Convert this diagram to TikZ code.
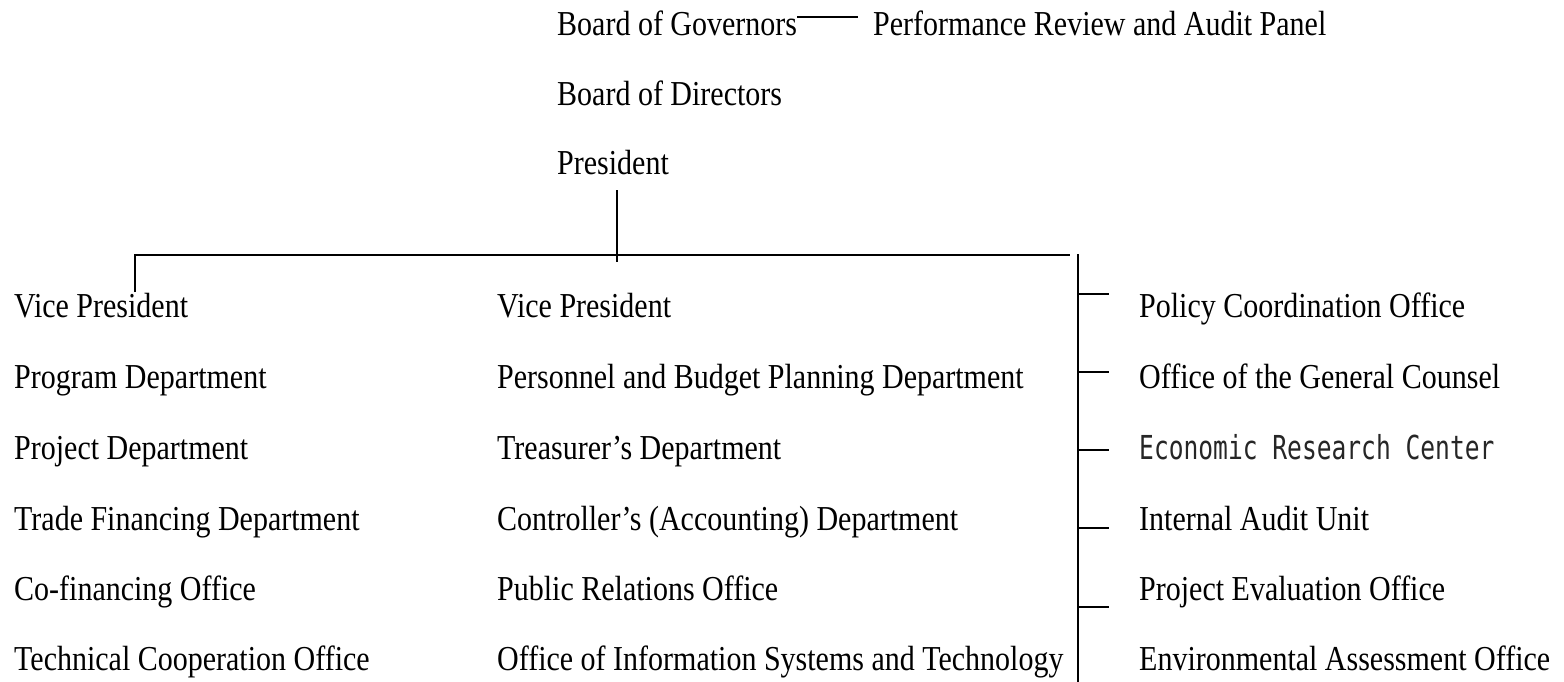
\documentclass[tikz,border=0pt]{standalone}
\usepackage{fontspec}
\setmainfont{Liberation Serif}[FakeStretch=0.857]
\newfontfamily\gothicmono{DejaVu Sans Mono}[FakeStretch=0.745]
\begin{document}
\begin{tikzpicture}[x=1pt,y=-1pt,
  lbl/.style={anchor=base west, inner sep=0pt, font=\fontsize{35}{40}\selectfont},
  monolbl/.style={anchor=base west, inner sep=0pt, font=\gothicmono\fontsize{33}{38}\selectfont, text=black!85},
  link/.style={line width=2pt, black}]
\useasboundingbox (0,0) rectangle (1564,682);

% top of the hierarchy
\node[lbl] (gov) at (557,36) {Board of Governors};
\node[lbl] (panel) at (873,36) {Performance Review and Audit Panel};
\node[lbl] (dir) at (557,106) {Board of Directors};
\node[lbl] (pres) at (557,175) {President};

% left column
\node[lbl] (vpa) at (14,317) {Vice President};
\node[lbl] (prog) at (14,388) {Program Department};
\node[lbl] (proj) at (14,459) {Project Department};
\node[lbl] (trade) at (14,530) {Trade Financing Department};
\node[lbl] (cofin) at (14,600) {Co-financing Office};
\node[lbl] (tech) at (14,670) {Technical Cooperation Office};

% middle column
\node[lbl] (vpb) at (497,317) {Vice President};
\node[lbl] (pers) at (497,388) {Personnel and Budget Planning Department};
\node[lbl] (treas) at (497,459) {Treasurer's Department};
\node[lbl] (contr) at (497,530) {Controller's (Accounting) Department};
\node[lbl] (pr) at (497,600) {Public Relations Office};
\node[lbl] (ois) at (497,670) {Office of Information Systems and Technology};

% right column
\node[lbl] (pco) at (1139,317) {Policy Coordination Office};
\node[lbl] (ogc) at (1139,388) {Office of the General Counsel};
\node[monolbl] (erc) at (1139,459) {Economic Research Center};
\node[lbl] (iau) at (1139,530) {Internal Audit Unit};
\node[lbl] (peo) at (1139,600) {Project Evaluation Office};
\node[lbl] (eao) at (1139,670) {Environmental Assessment Office};

% junction points of the connectors
\coordinate (govend) at (858,17);
\coordinate (presdrop) at (617,190);
\coordinate (presend) at (617,262);
\coordinate (busl) at (135,255);
\coordinate (busr) at (1070,255);
\coordinate (vpatop) at (135,292);
\coordinate (spinetop) at (1078,254);
\coordinate (spinebot) at (1078,682);
\coordinate (t1) at (1078,294);
\coordinate (t2) at (1078,372);
\coordinate (t3) at (1078,450);
\coordinate (t4) at (1078,528);
\coordinate (t5) at (1078,607);

% connectors
\draw[link] (gov.base east |- govend) -- (govend);
\draw[link] (presdrop) -- (presend);
\draw[link] (vpatop) -- (busl) -- (busr);
\draw[link] (spinetop) -- (spinebot);
\foreach \t in {t1,t2,t3,t4,t5}
  \draw[link] (\t) -- ++(31,0);
\end{tikzpicture}
\end{document}
